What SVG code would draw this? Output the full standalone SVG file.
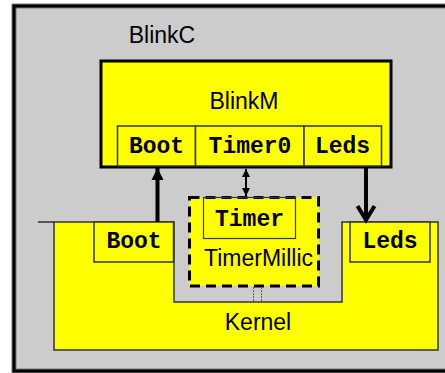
<svg xmlns="http://www.w3.org/2000/svg" width="445" height="373" viewBox="0 0 445 373">
<style>
.lbl{font-family:"Liberation Sans",Arial,sans-serif;font-size:23px;fill:#000;text-anchor:middle}
.ifc{font-family:"Liberation Mono","Courier New",monospace;font-weight:bold;font-size:23px;fill:#000;text-anchor:middle}
.ibox{fill:#FFFF00;stroke:#333;stroke-width:1.5}
.yel{fill:#FFFF00}
</style>
<defs>
<marker id="tri" viewBox="0 0 10 10" refX="10" refY="5" markerWidth="3" markerHeight="3.2" orient="auto" markerUnits="strokeWidth">
<path d="M0,0 L10,5 L0,10 Z" fill="#000"/>
</marker>
<marker id="tris" viewBox="0 0 10 10" refX="10" refY="5" markerWidth="4.2" markerHeight="4.2" orient="auto-start-reverse" markerUnits="strokeWidth">
<path d="M0,0 L10,5 L0,10 Z" fill="#000"/>
</marker>
</defs>
<rect x="0" y="0" width="445" height="373" fill="#FFFFFF"/>
<g id="BlinkC">
<rect x="14" y="6" width="440" height="365" fill="#CCCCCC" stroke="#777" stroke-width="5"/>
<rect x="14" y="6" width="440" height="365" fill="none" stroke="#000" stroke-width="3"/>
<text class="lbl" x="162" y="43">BlinkC</text>
</g>
<g id="Kernel">
<path d="M54,222 H174 V302 H342 V222 H438 V350 H54 Z" fill="#FFFF00" stroke="#333" stroke-width="1.5"/>
<line x1="38" y1="222" x2="54" y2="222" stroke="#333" stroke-width="1.5"/>
<rect x="94" y="222" width="79.5" height="40" class="ibox" stroke-width="1"/>
<text class="ifc" x="134" y="248">Boot</text>
<rect x="350" y="222" width="80" height="40" class="ibox" stroke-width="1"/>
<text class="ifc" x="390" y="248">Leds</text>
<text class="lbl" x="258" y="330">Kernel</text>
</g>
<g id="BlinkM">
<rect x="101" y="61" width="290" height="106" fill="#FFFF00" stroke="#000" stroke-width="3"/>
<text class="lbl" x="244" y="109">BlinkM</text>
<rect x="117.5" y="126" width="78" height="40" class="ibox"/>
<text class="ifc" x="156.5" y="153">Boot</text>
<rect x="195.5" y="126" width="108.5" height="40" class="ibox"/>
<text class="ifc" x="250" y="153">Timer0</text>
<rect x="304" y="126" width="77.5" height="40" class="ibox"/>
<text class="ifc" x="342.5" y="153">Leds</text>
</g>
<g id="TimerMillic">
<rect x="189.5" y="197.5" width="129" height="88.5" fill="#FFFF00" stroke="#000" stroke-width="3" stroke-dasharray="10,6"/>
<rect x="203.5" y="197.5" width="92" height="41" fill="none" stroke="#333" stroke-width="1.2"/>
<text class="ifc" x="249.5" y="226">Timer</text>
<text class="lbl" x="258.5" y="266">TimerMillic</text>
</g>
<g id="connectors">
<line x1="157.5" y1="222" x2="157.5" y2="168" stroke="#000" stroke-width="4" marker-end="url(#tri)"/>
<line x1="246" y1="169" x2="246" y2="196" stroke="#000" stroke-width="2" marker-start="url(#tris)" marker-end="url(#tris)"/>
<line x1="366" y1="167" x2="366" y2="219" stroke="#000" stroke-width="4"/>
<polyline points="357.5,206 366,220 374.5,206" fill="none" stroke="#000" stroke-width="4"/>
<line x1="253.5" y1="287" x2="253.5" y2="301" stroke="#666" stroke-width="1" stroke-dasharray="2,1"/>
<line x1="261.5" y1="287" x2="261.5" y2="301" stroke="#666" stroke-width="1" stroke-dasharray="2,1"/>
</g>
</svg>
